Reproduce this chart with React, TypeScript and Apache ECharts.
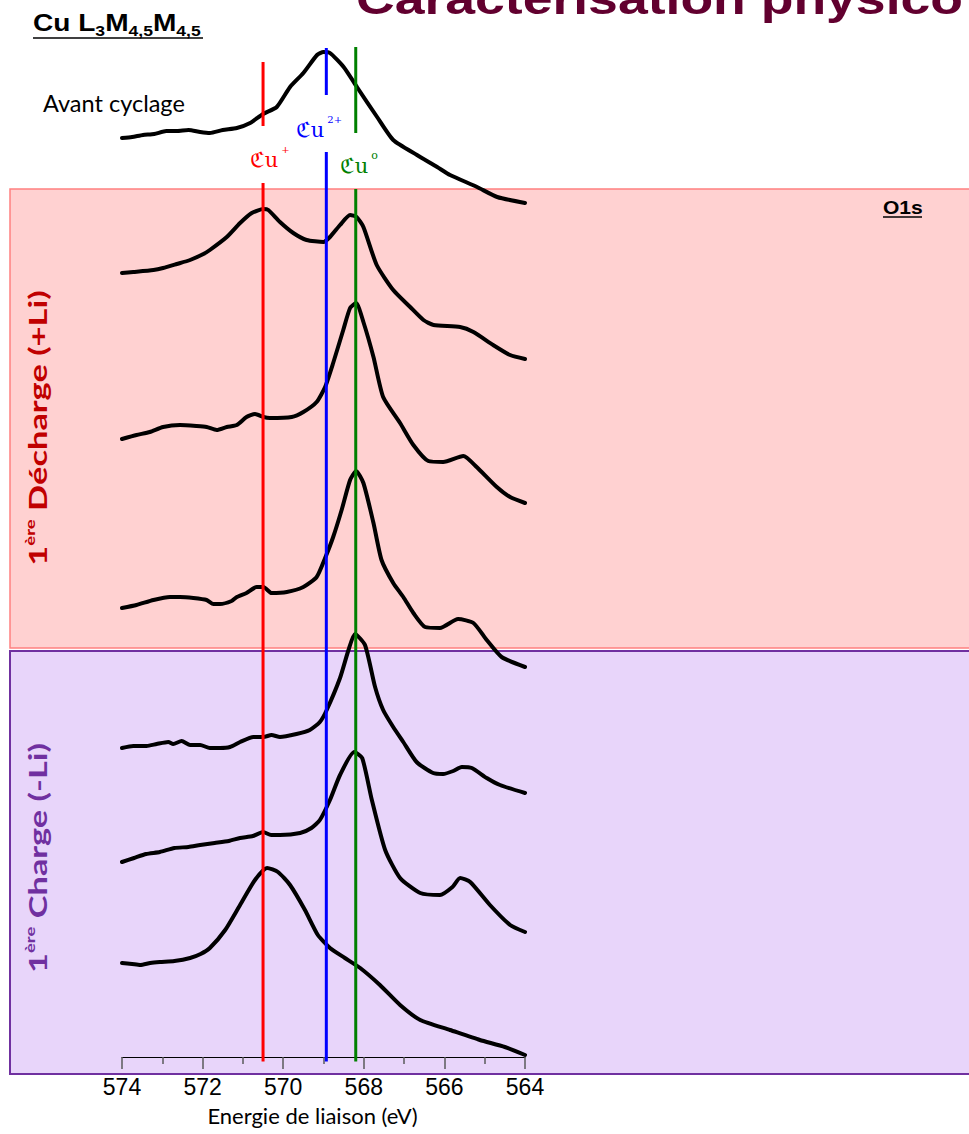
import { useEffect, useRef } from "react";
import * as echarts from "echarts";

type Pt = [number, number];

// Cu L3M4,5M4,5 Auger spectra: [binding energy (eV), stacked intensity (a.u.)]
const avantCyclage: Pt[] = [
  [574.0, 91.9], [573.75, 92.0], [573.48, 92.2], [573.2, 92.3], [572.9, 92.6], [572.64, 92.6],
  [572.35, 92.7], [572.06, 92.5], [571.82, 92.4], [571.5, 92.7], [571.15, 92.9], [570.82, 93.4],
  [570.5, 94.3], [570.16, 95.0], [569.83, 97.0], [569.5, 98.4], [569.16, 100.2], [569.0, 100.5],
  [568.84, 100.4], [568.5, 99.0], [568.17, 97.0], [567.67, 94.0], [567.27, 91.7], [566.68, 90.2],
  [566.18, 89.0], [565.86, 88.2], [565.19, 87.0], [564.69, 86.0], [564.0, 85.4],
];

const decharge1: Pt[] = [
  [574.0, 78.4], [573.72, 78.5], [573.22, 78.7], [572.98, 78.9], [572.64, 79.3], [572.31, 79.7],
  [571.98, 80.3], [571.82, 80.7], [571.4, 82.0], [571.07, 83.4], [570.78, 84.4], [570.49, 84.8],
  [570.37, 84.7], [570.08, 83.5], [569.75, 82.4], [569.42, 81.7], [569.0, 81.5], [568.84, 82.0],
  [568.59, 83.2], [568.34, 84.2], [568.18, 84.0], [568.01, 83.0], [567.68, 79.2], [567.27, 76.7],
  [566.85, 75.0], [566.52, 73.7], [566.27, 73.2], [565.61, 73.0], [565.28, 72.5], [564.79, 71.2],
  [564.37, 70.2], [564.0, 69.8],
];

const decharge2: Pt[] = [
  [574.0, 61.8], [573.64, 62.2], [573.31, 62.5], [572.98, 63.0], [572.56, 63.2], [572.15, 63.1],
  [571.9, 63.0], [571.65, 62.7], [571.4, 63.0], [571.15, 63.2], [570.91, 64.0], [570.7, 64.3],
  [570.49, 64.0], [570.33, 63.9], [569.79, 64.0], [569.5, 64.5], [569.17, 65.5], [568.96, 67.0],
  [568.76, 69.4], [568.51, 72.7], [568.34, 74.9], [568.19, 75.4], [568.01, 73.5], [567.76, 70.0],
  [567.52, 66.0], [567.1, 63.4], [566.77, 61.2], [566.4, 59.6], [566.03, 59.5], [565.53, 60.1],
  [565.2, 59.0], [564.7, 57.0], [564.37, 56.0], [564.0, 55.4],
];

const decharge3: Pt[] = [
  [574.0, 44.9], [573.64, 45.2], [573.22, 45.7], [572.81, 46.0], [572.56, 46.0], [572.23, 45.9],
  [571.9, 45.7], [571.73, 45.3], [571.57, 45.3], [571.28, 45.6], [571.15, 46.0], [570.91, 46.4],
  [570.66, 47.0], [570.49, 47.0], [570.29, 46.4], [569.91, 46.5], [569.5, 47.0], [569.17, 48.0],
  [568.96, 49.9], [568.76, 52.0], [568.55, 54.7], [568.34, 57.7], [568.19, 58.6], [568.01, 57.4],
  [567.76, 53.4], [567.56, 49.7], [567.27, 47.4], [567.02, 46.0], [566.77, 44.4], [566.48, 43.0],
  [566.11, 42.9], [565.66, 43.8], [565.28, 43.4], [564.95, 41.7], [564.58, 40.0], [564.0, 39.0],
];

const charge1: Pt[] = [
  [574.0, 30.9], [573.72, 31.1], [573.39, 31.1], [573.14, 31.3], [572.85, 31.5], [572.73, 31.3],
  [572.52, 31.6], [572.31, 31.2], [572.06, 31.2], [571.82, 30.9], [571.57, 30.9], [571.32, 31.0],
  [571.07, 31.5], [570.74, 32.0], [570.49, 32.0], [570.29, 32.2], [570.08, 32.0], [569.67, 32.3],
  [569.34, 32.7], [569.09, 33.5], [568.92, 34.7], [568.59, 37.9], [568.38, 40.7], [568.22, 42.3],
  [567.97, 41.2], [567.72, 37.0], [567.52, 34.7], [567.27, 33.0], [567.02, 31.5], [566.69, 29.5],
  [566.28, 28.4], [566.03, 28.3], [565.78, 28.6], [565.57, 29.0], [565.32, 28.9], [564.95, 27.9],
  [564.62, 27.2], [564.0, 26.4],
];

const charge2: Pt[] = [
  [574.0, 19.5], [573.7, 19.9], [573.4, 20.3], [573.06, 20.5], [572.7, 20.9], [572.35, 21.0],
  [572.06, 21.2], [571.7, 21.4], [571.35, 21.6], [571.07, 21.9], [570.75, 22.1], [570.5, 22.5],
  [570.3, 22.2], [570.08, 22.2], [569.58, 22.4], [569.3, 22.9], [569.09, 23.7], [568.84, 25.7],
  [568.59, 28.2], [568.24, 30.5], [568.04, 29.9], [567.8, 25.7], [567.47, 20.7], [567.1, 17.9],
  [566.6, 16.4], [566.11, 16.2], [565.8, 17.0], [565.61, 17.9], [565.36, 17.5], [564.87, 15.2],
  [564.37, 13.2], [564.0, 12.5],
];

const charge3: Pt[] = [
  [574.0, 9.4], [573.75, 9.3], [573.55, 9.2], [573.3, 9.4], [573.06, 9.5], [572.7, 9.6],
  [572.31, 9.9], [572.05, 10.3], [571.82, 10.9], [571.44, 12.7], [571.07, 15.2], [570.7, 17.7],
  [570.4, 18.9], [570.13, 18.5], [569.83, 17.2], [569.46, 14.7], [569.14, 12.2], [568.84, 10.9],
  [568.47, 9.9], [568.09, 8.9], [567.6, 7.2], [567.1, 5.2], [566.6, 3.7], [565.86, 2.7],
  [565.12, 1.7], [564.5, 1.0], [564.0, 0.2],
];

const spectra: Pt[][] = [avantCyclage, decharge1, decharge2, decharge3, charge1, charge2, charge3];

// Reference energies of the copper oxidation states (eV)
const cuPlusEnergy = 570.5;
const cu2PlusEnergy = 568.93;
const cu0Energy = 568.2;

// Marker segments [top, bottom] in intensity units, broken where the labels sit
const cuPlusSegments: Pt[] = [[99.5, 93.1], [87.4, -0.45]];
const cu2PlusSegments: Pt[] = [[100.9, 96.2], [90.5, -0.45]];
const cu0Segments: Pt[] = [[101.0, 92.4], [86.8, -0.45]];

const energyMin = 564;
const energyMax = 574;
const energyStep = 2;

const markerSeries = (energy: number, segments: Pt[], color: string) =>
  segments.map(([top, bottom]) => ({
    type: "line",
    data: [
      [energy, top],
      [energy, bottom],
    ],
    showSymbol: false,
    clip: false,
    silent: true,
    z: 4,
    lineStyle: { color, width: 3 },
  }));

const calibri = "Lato, 'Open Sans', sans-serif";
const arial = "'Liberation Sans', Arial, sans-serif";
const fraktur = "'DejaVu Serif', 'DejaVu Sans', serif";

const cuLabel = (x: number, y: number, charge: string, color: string, supSize: number) => ({
  type: "text",
  x,
  y,
  z: 10,
  style: {
    text: `{m|ℭu}{s|${charge}}`,
    fill: color,
    align: "left",
    verticalAlign: "middle",
    rich: {
      m: { fontFamily: fraktur, fontSize: 21, lineHeight: 26, verticalAlign: "bottom", fill: color },
      s: { fontFamily: fraktur, fontSize: supSize, lineHeight: 14, verticalAlign: "top", fill: color, padding: [0, 0, 0, 3] },
    },
  },
});

const bandTitle = (y: number, words: string, color: string) => ({
  type: "text",
  x: 37,
  y,
  rotation: Math.PI / 2,
  scaleX: 1.23,
  scaleY: 0.91,
  z: 10,
  style: {
    text: `{n|1}{s|ère}{n| ${words}}`,
    fill: color,
    align: "center",
    verticalAlign: "middle",
    rich: {
      n: { fontFamily: calibri, fontWeight: "bold", fontSize: 28, lineHeight: 32, verticalAlign: "middle", fill: color },
      s: { fontFamily: calibri, fontWeight: "bold", fontSize: 15, lineHeight: 15, verticalAlign: "top", fill: color },
    },
  },
});

export default function App() {
  const ref = useRef<HTMLDivElement>(null);

  useEffect(() => {
    if (!ref.current) return;
    const chart = echarts.init(ref.current, undefined, { renderer: "svg" });

    const curveSeries = spectra.map((data) => ({
      type: "line",
      data,
      showSymbol: false,
      smooth: 0.2,
      clip: false,
      silent: true,
      z: 3,
      lineStyle: { color: "#000000", width: 4, join: "round", cap: "round" },
    }));

    chart.setOption({
      animation: false,
      backgroundColor: "#ffffff",
      grid: { left: 122, right: 444, top: 47, bottom: 77, containLabel: false },
      xAxis: {
        type: "value",
        inverse: true,
        min: energyMin,
        max: energyMax,
        interval: energyStep,
        name: "Energie de liaison (eV)",
        nameLocation: "middle",
        nameGap: 47,
        nameTextStyle: { fontFamily: calibri, fontSize: 22, color: "#000000", padding: [0, 22, 0, 0] },
        axisLine: { show: true, lineStyle: { color: "#000000", width: 1 } },
        axisTick: { show: true, length: 12, inside: false, lineStyle: { color: "#5a5a5a", width: 1.5 } },
        minorTick: { show: true, splitNumber: 2, length: 7, lineStyle: { color: "#5a5a5a", width: 1.5 } },
        axisLabel: { fontFamily: arial, fontSize: 23, color: "#000000", margin: 18 },
        splitLine: { show: false },
        minorSplitLine: { show: false },
      },
      yAxis: { type: "value", min: 0, max: 101, show: false },
      series: [
        ...curveSeries,
        ...markerSeries(cuPlusEnergy, cuPlusSegments, "#ff0000"),
        ...markerSeries(cu2PlusEnergy, cu2PlusSegments, "#0000ff"),
        ...markerSeries(cu0Energy, cu0Segments, "#008000"),
      ],
      graphic: [
        // cycling-stage bands
        {
          type: "rect",
          z: -10,
          silent: true,
          shape: { x: 10, y: 189, width: 975, height: 459 },
          style: { fill: "#ffd1d1", stroke: "#ff8080", lineWidth: 1.5 },
        },
        {
          type: "rect",
          z: -10,
          silent: true,
          shape: { x: 10, y: 651, width: 975, height: 423 },
          style: { fill: "#e8d5fa", stroke: "#7030a0", lineWidth: 2 },
        },
        // slide title, running off the top edge
        {
          type: "text",
          x: 963,
          y: -2,
          scaleX: 1.19,
          z: 10,
          style: {
            text: "Caractérisation physico",
            fontFamily: arial,
            fontWeight: "bold",
            fontSize: 45,
            fill: "#62002f",
            align: "right",
            verticalAlign: "middle",
            textShadowColor: "#000000",
            textShadowOffsetX: 2,
            textShadowOffsetY: 2,
            textShadowBlur: 0,
          },
        },
        // transition label
        {
          type: "text",
          x: 33,
          y: 23,
          scaleX: 1.17,
          z: 10,
          style: {
            text: "{m|Cu L}{s|3}{m|M}{s|4,5}{m|M}{s|4,5}",
            fill: "#000000",
            align: "left",
            verticalAlign: "middle",
            rich: {
              m: { fontFamily: arial, fontWeight: "bold", fontSize: 24, lineHeight: 30, verticalAlign: "middle" },
              s: { fontFamily: arial, fontWeight: "bold", fontSize: 15, lineHeight: 15, verticalAlign: "bottom" },
            },
          },
        },
        {
          type: "line",
          z: 10,
          shape: { x1: 33, y1: 38, x2: 203, y2: 38 },
          style: { stroke: "#000000", lineWidth: 1.5 },
        },
        {
          type: "text",
          x: 43,
          y: 103,
          z: 10,
          style: {
            text: "Avant cyclage",
            fontFamily: calibri,
            fontSize: 23.5,
            fill: "#000000",
            align: "left",
            verticalAlign: "middle",
          },
        },
        {
          type: "text",
          x: 883,
          y: 208,
          scaleX: 1.17,
          z: 10,
          style: {
            text: "O1s",
            fontFamily: arial,
            fontWeight: "bold",
            fontSize: 18,
            fill: "#000000",
            align: "left",
            verticalAlign: "middle",
          },
        },
        {
          type: "line",
          z: 10,
          shape: { x1: 883, y1: 217, x2: 922, y2: 217 },
          style: { stroke: "#000000", lineWidth: 1.5 },
        },
        // oxidation-state labels
        cuLabel(296, 127, "2+", "#0000ff", 10),
        cuLabel(250, 157, "+", "#ff0000", 10),
        cuLabel(340, 163, "o", "#008000", 11),
        // band titles, reading upward
        bandTitle(428, "Décharge (+Li)", "#c00000"),
        bandTitle(858, "Charge (-Li)", "#7030a0"),
      ],
    });

    return () => chart.dispose();
  }, []);

  return (
    <div
      ref={ref}
      style={{ position: "fixed", left: 0, top: 0, width: 969, height: 1134, background: "#ffffff" }}
    />
  );
}
